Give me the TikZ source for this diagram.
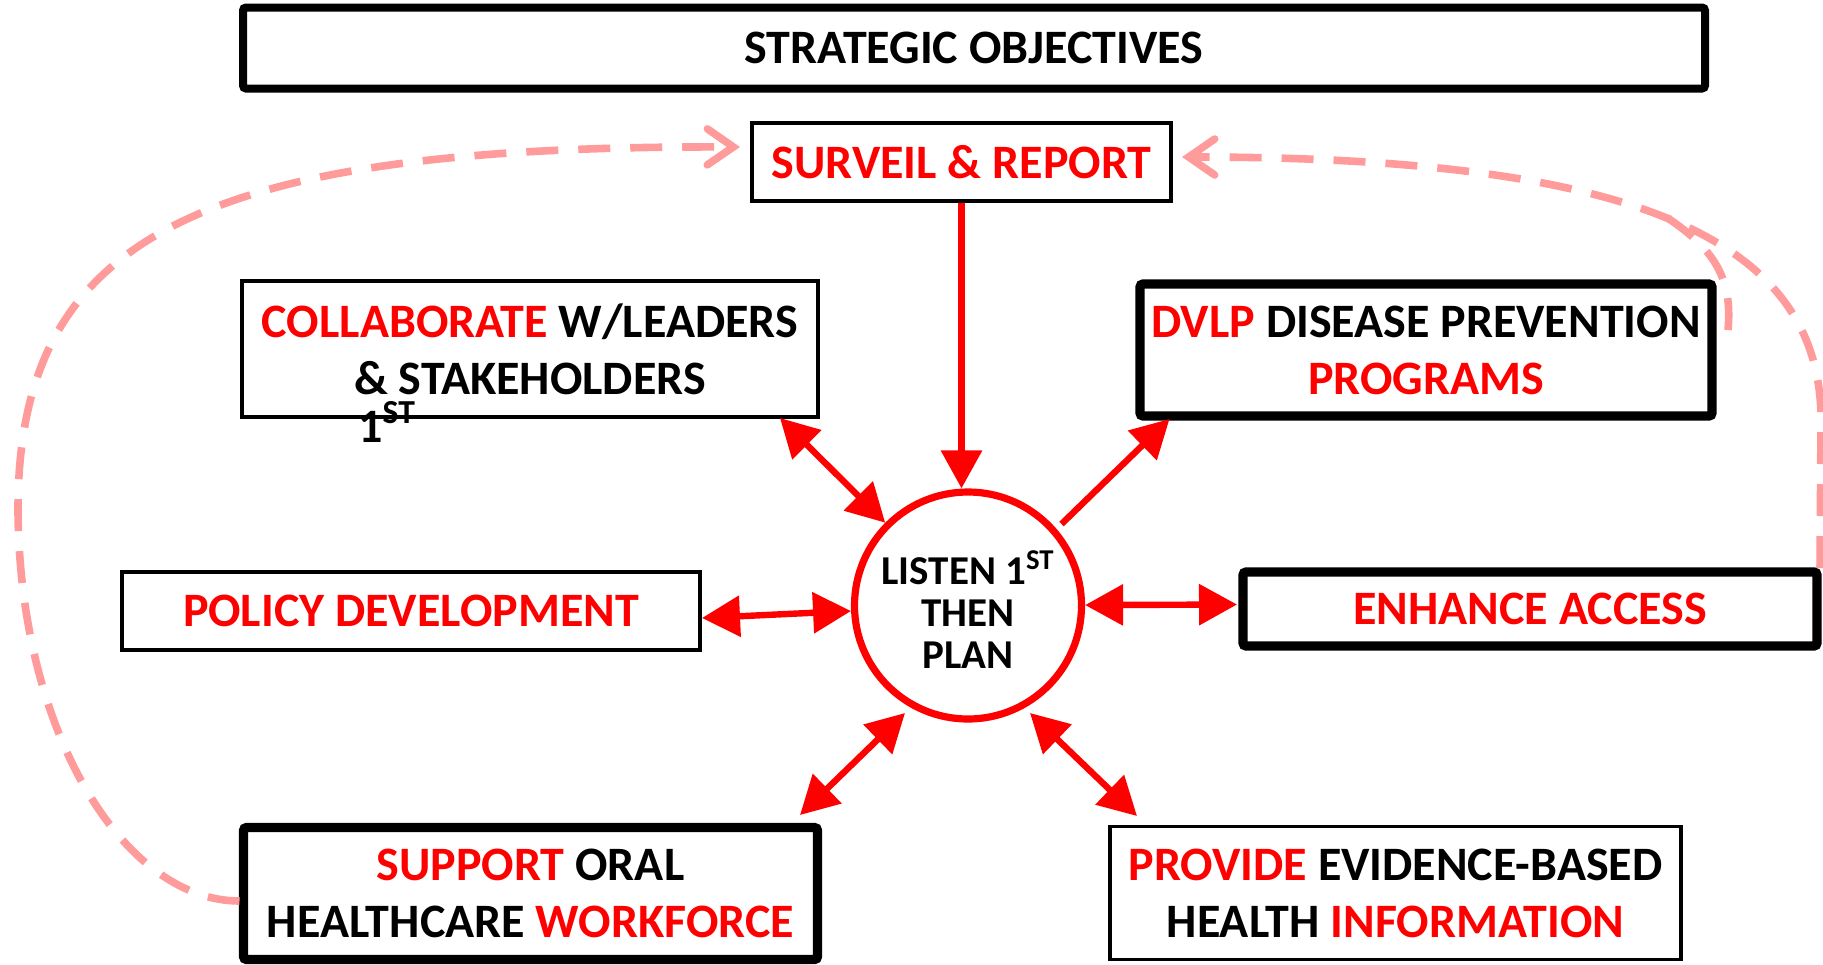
\documentclass[tikz,border=0pt]{standalone}
\usepackage{fontspec}
\setmainfont{Carlito}
\usetikzlibrary{arrows.meta}
\definecolor{pinkc}{RGB}{255,155,155}
\begin{document}
\begin{tikzpicture}[x=0.5pt,y=-0.5pt,
  box/.style={draw, line width=1.9pt, inner sep=0pt, align=center,
    font=\fontsize{24}{28.5}\selectfont\bfseries},
  thickbox/.style={box, line width=4.6pt, rounded corners=1.5pt},
  redarr/.style={draw=red, line width=3.2pt, -{Triangle[length=19pt,width=20pt,fill=red]}},
  dredarr/.style={draw=red, line width=3.2pt,
    {Triangle[length=19pt,width=20pt,fill=red]}-{Triangle[length=19pt,width=20pt,fill=red]}},
  fbline/.style={draw=pinkc, line width=3.8pt, dash pattern=on 16pt off 10pt},
  fbarr/.style={fbline, -{Straight Barb[length=13pt,width=18pt,line cap=round]}}
]
\useasboundingbox (0,0) rectangle (1823,964);

% boxes
\node[thickbox, line width=4pt, minimum width=731pt, minimum height=40.5pt] (strat) at (974,48) {STRATEGIC OBJECTIVES};
\node[box, minimum width=209.5pt, minimum height=39pt, text=red] (surveil) at (961.5,162) {SURVEIL \& REPORT};
\node[box, minimum width=288pt, minimum height=68pt] (collab) at (530,349)
  {{\color{red}COLLABORATE} W/LEADERS\\\& STAKEHOLDERS};
\node[thickbox, minimum width=286pt, minimum height=66pt] (dvlp) at (1426,350)
  {{\color{red}DVLP} DISEASE PREVENTION\\{\color{red}PROGRAMS}};
\node[box, minimum width=289pt, minimum height=39pt, text=red] (policy) at (411,611) {POLICY DEVELOPMENT};
\node[thickbox, minimum width=287pt, minimum height=37pt, text=red] (enhance) at (1530,609) {ENHANCE ACCESS};
\node[thickbox, minimum width=287pt, minimum height=66pt] (support) at (530.5,893.5)
  {{\color{red}SUPPORT} ORAL\\HEALTHCARE {\color{red}WORKFORCE}};
\node[box, minimum width=285.5pt, minimum height=66.5pt] (provide) at (1395.5,893)
  {{\color{red}PROVIDE} EVIDENCE-BASED\\HEALTH {\color{red}INFORMATION}};
\node[anchor=base west, inner sep=0pt, font=\fontsize{24}{28.5}\selectfont\bfseries] (first) at (358,442) {1\textsuperscript{ST}};

% centre circle
\node[circle, draw=red, line width=3.6pt, minimum size=113.5pt, inner sep=0pt, align=center,
  font=\fontsize{20.5}{20.8}\selectfont\bfseries] (circ) at (968,605.5)
  {\rule{0pt}{21pt}LISTEN 1\textsuperscript{ST}\\THEN\\PLAN};

% connector end points
\coordinate (c1) at (780,418);
\coordinate (d1) at (1061.5,524);
\coordinate (d2) at (1169.5,419);
\coordinate (p1) at (702,618);
\coordinate (e1) at (1237,604.5);
\coordinate (s1) at (800,815);
\coordinate (s2) at (905,713);
\coordinate (v1) at (1030,713);
\coordinate (v2) at (1137,816);

% red connectors
\draw[redarr] (surveil.south) -- (surveil.south |- circ.north);
\draw[dredarr] (c1) -- (circ.135);
\draw[redarr] (d1) -- (d2);
\draw[dredarr] (p1) -- (circ);
\draw[dredarr] (circ) -- (e1);
\draw[dredarr] (s2) -- (s1);
\draw[dredarr] (v1) -- (v2);

% feedback dashed curves
\coordinate (sw) at (239.5,901);
\coordinate (svl) at (740,147);
\coordinate (svr) at (1182,157);
\coordinate (ee) at (1820,568);
\coordinate (dv) at (1728,330);
\coordinate (jn) at (1655,210);
\draw[fbarr] (sw) .. controls (125,901) and (20,735) .. (18,512)
  .. controls (17,237) and (197,145) .. (svl);
\draw[fbarr] (ee) -- (1821,420) .. controls (1821,236) and (1629,157) .. (svr);
\draw[fbline] (dv) .. controls (1733,275) and (1712,245) .. (jn);
\end{tikzpicture}
\end{document}
